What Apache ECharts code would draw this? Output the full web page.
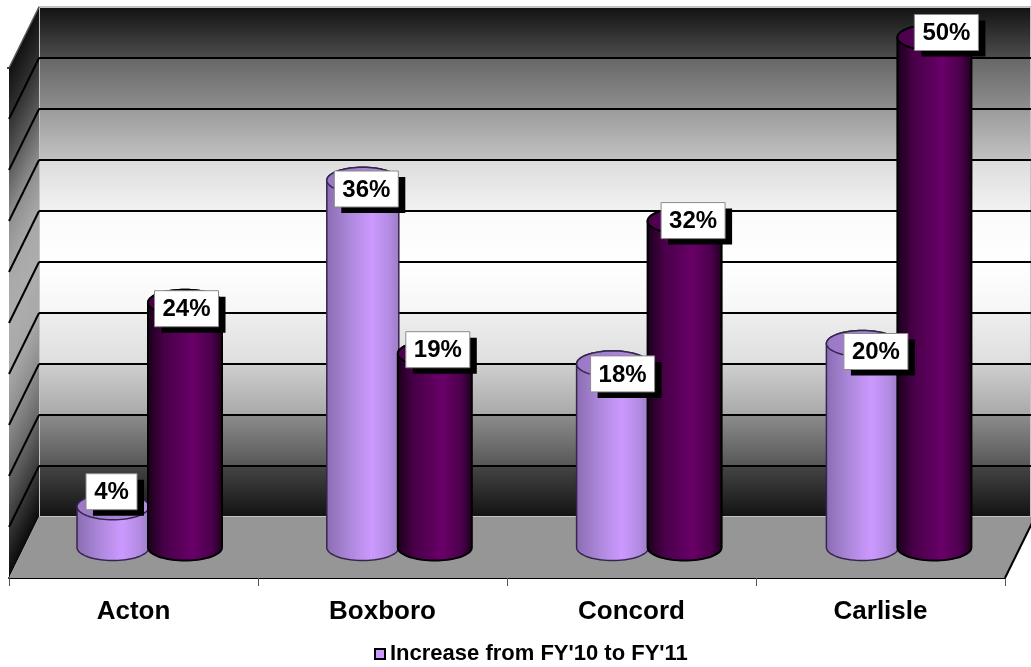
<!DOCTYPE html>
<html>
<head>
<meta charset="utf-8">
<style>html,body{margin:0;padding:0;background:#fff}#chart{width:1031px;height:667px}</style>
<script src="https://cdn.jsdelivr.net/npm/echarts@6/dist/echarts.min.js"></script>
</head>
<body>
<div id="chart"></div>
<script>
// Town budget increases, drawn as cylinders standing on a box-shaped floor.
const towns = ['Acton', 'Boxboro', 'Concord', 'Carlisle'];
const increaseFY11 = [4, 36, 18, 20];
const increasePrior = [24, 19, 32, 50];
const legendName = "Increase from FY'10 to FY'11";
const priorName = 'Prior increase';

// Hand-placed nudges of each value tag from the top of its cylinder, in px.
const tagNudgeFY11 = [[-1.5, -15], [3.5, 8.7], [10, 10], [13.5, 8]];
const tagNudgePrior = [[1.5, 6], [3, -4], [8.5, -0.5], [12, -5]];

const FONT = '"Liberation Sans", Arial, sans-serif';
const DEPTH_X = 30, DEPTH_Y = 61;   // shift from the front plane to the back wall
const RY = 13;                      // vertical radius of the cylinder caps
const BAND_SPREAD = 0.8;            // mid-depth groups sit slightly wider apart than the front ticks

const stops = (list) => list.map(([offset, color]) => ({ offset, color }));

const wallStops = stops([
  [0, '#111111'], [0.1, '#4c4c4c'], [0.1, '#666666'], [0.2, '#8e8e8e'],
  [0.2, '#9a9a9a'], [0.3, '#c2c2c2'], [0.3, '#dcdcdc'], [0.4, '#f2f2f2'],
  [0.4, '#fafafa'], [0.5, '#ffffff'], [0.6, '#f6f6f6'], [0.6, '#eeeeee'],
  [0.7, '#dedede'], [0.7, '#cfcfcf'], [0.8, '#a8a8a8'], [0.8, '#8c8c8c'],
  [0.9, '#565656'], [0.9, '#444444'], [1, '#111111']
]);
const sideStops = stops([
  [0, '#111111'], [0.1, '#303030'], [0.2, '#5c5c5c'], [0.3, '#8f8f8f'],
  [0.4, '#a8a8a8'], [0.5, '#adadad'], [0.6, '#a8a8a8'], [0.7, '#8c8c8c'],
  [0.8, '#666666'], [0.9, '#383838'], [1, '#0a0a0a']
]);

const lightLook = {
  body: stops([[0, '#8a6cb0'], [0.3, '#aa86d8'], [0.62, '#cc99ff'], [0.85, '#b48ce4'], [1, '#9c7cc4']]),
  cap: stops([[0, '#9a78c4'], [1, '#b48ce6']]),
  stroke: '#33264a', lineWidth: 1.5, rx: 36, shift: -35.5
};
const darkLook = {
  body: stops([[0, '#180018'], [0.22, '#470047'], [0.6, '#690069'], [0.85, '#4c004c'], [1, '#1c001c']]),
  cap: stops([[0, '#4c004c'], [1, '#680068']]),
  stroke: '#000000', lineWidth: 2, rx: 37, shift: 36.5
};

const hGrad = (colorStops) => ({ type: 'linear', x: 0, y: 0, x2: 1, y2: 0, colorStops });

// Outline of a full ellipse, as polygon points.
function ellipsePoints(cx, cy, rx) {
  const pts = [];
  for (let i = 0; i < 72; i++) {
    const a = (i / 72) * Math.PI * 2;
    pts.push([cx + rx * Math.cos(a), cy + RY * Math.sin(a)]);
  }
  return pts;
}

// Side surface: down the left edge, round the lower half, up the right edge.
function bodyPoints(cx, topY, baseY, rx) {
  const pts = [[cx - rx, topY]];
  for (let i = 0; i <= 36; i++) {
    const a = Math.PI - (i / 36) * Math.PI;
    pts.push([cx + rx * Math.cos(a), baseY + RY * Math.sin(a)]);
  }
  pts.push([cx + rx, topY]);
  for (let i = 0; i <= 36; i++) {
    const a = (i / 36) * Math.PI;
    pts.push([cx + rx * Math.cos(a), topY - RY * Math.sin(a)]);
  }
  return pts;
}

function tagChildren(cx, cy, value) {
  const text = value + '%';
  const w = text.length > 2 ? 64 : 51;
  const h = 36;
  const x = cx - w / 2, y = cy - h / 2;
  return [
    { type: 'rect', z2: 20, shape: { x: x + 7, y: y + 6, width: w, height: h }, style: { fill: '#000' } },
    { type: 'rect', z2: 21, shape: { x, y, width: w, height: h }, style: { fill: '#fff', stroke: '#8a8a8a', lineWidth: 1 } },
    { type: 'text', z2: 22, style: { x: cx, y: cy + 1, text, fill: '#000', font: 'bold 24px ' + FONT, align: 'center', verticalAlign: 'middle' } }
  ];
}

function cylinderRenderer(look, nudges, order) {
  return function (params, api) {
    const cat = api.value(0), value = api.value(1);
    const base = api.coord([cat, 0]);
    const top = api.coord([cat, value]);
    const cx = base[0] + DEPTH_X / 2 + look.shift + cat * BAND_SPREAD;
    const baseY = base[1] - DEPTH_Y / 2;
    const topY = top[1] - DEPTH_Y / 2;
    const nudge = nudges[params.dataIndex];
    return {
      type: 'group',
      children: [
        { type: 'polygon', z2: order, shape: { points: bodyPoints(cx, topY, baseY, look.rx) },
          style: { fill: hGrad(look.body), stroke: look.stroke, lineWidth: look.lineWidth } },
        { type: 'polygon', z2: order + 1, shape: { points: ellipsePoints(cx, topY, look.rx) },
          style: { fill: hGrad(look.cap), stroke: look.stroke, lineWidth: look.lineWidth } }
      ].concat(tagChildren(cx + nudge[0], topY + nudge[1], value))
    };
  };
}

// Floor, left wall and the wall's slanted grid lines, built from the axis frame.
function renderBox(params, api) {
  const sys = params.coordSys;
  const left = sys.x, right = sys.x + sys.width;
  const bottom = sys.y + sys.height;
  const children = [];
  const slant = DEPTH_Y / DEPTH_X;
  const span = sys.height / (1 + slant * slant);
  children.push({
    type: 'polygon',
    shape: { points: [[left, bottom], [left + DEPTH_X, bottom - DEPTH_Y], [left + DEPTH_X, sys.y - DEPTH_Y], [left, sys.y]] },
    style: {
      fill: { type: 'linear', global: true, x: left, y: sys.y, x2: left + span * slant, y2: sys.y + span, colorStops: sideStops }
    }
  });
  children.push({
    type: 'polygon',
    shape: { points: [[left, bottom], [right, bottom], [right + DEPTH_X, bottom - DEPTH_Y], [left + DEPTH_X, bottom - DEPTH_Y]] },
    style: { fill: '#969696' }
  });
  for (let v = 5; v <= 45; v += 5) {
    const y = api.coord([0, v])[1];
    children.push({
      type: 'line',
      shape: { x1: left, y1: y, x2: left + DEPTH_X, y2: y - DEPTH_Y },
      style: { stroke: '#000', lineWidth: 2 }
    });
  }
  children.push({ type: 'line', shape: { x1: left, y1: sys.y, x2: left + DEPTH_X, y2: sys.y - DEPTH_Y }, style: { stroke: '#555', lineWidth: 1.5 } });
  children.push({ type: 'line', shape: { x1: left - 2, y1: sys.y, x2: left, y2: sys.y }, style: { stroke: '#000', lineWidth: 1.5 } });
  children.push({ type: 'line', shape: { x1: right, y1: bottom, x2: right + DEPTH_X, y2: bottom - DEPTH_Y }, style: { stroke: '#000', lineWidth: 2 } });
  return { type: 'group', children };
}

const option = {
  animation: false,
  backgroundColor: '#ffffff',
  grid: [
    { left: 9, top: 68, width: 996, height: 510, show: false },
    {
      left: 39, top: 7, width: 996, height: 510, show: true, z: 0,
      backgroundColor: { type: 'linear', x: 0, y: 0, x2: 0, y2: 1, colorStops: wallStops },
      borderColor: '#c4c4c4', borderWidth: 2
    }
  ],
  xAxis: [
    {
      type: 'category', gridIndex: 0, data: towns,
      axisLine: { lineStyle: { color: '#000', width: 2 } },
      axisTick: { show: true, length: 8, lineStyle: { color: '#555', width: 1 } },
      axisLabel: { color: '#000', fontFamily: FONT, fontWeight: 'bold', fontSize: 26, margin: 21 }
    },
    { type: 'category', gridIndex: 1, data: towns, show: false }
  ],
  yAxis: [
    {
      type: 'value', gridIndex: 0, min: 0, max: 50, interval: 5,
      axisLabel: { show: false }, axisTick: { show: false }, splitLine: { show: false },
      axisLine: { show: true, lineStyle: { color: '#444', width: 1 } }
    },
    {
      type: 'value', gridIndex: 1, min: 0, max: 50, interval: 5,
      axisLabel: { show: false }, axisTick: { show: false }, axisLine: { show: false },
      splitLine: { show: true, showMinLine: false, showMaxLine: false, lineStyle: { color: '#000', width: 2 } }
    }
  ],
  legend: {
    data: [{ name: legendName, icon: 'rect', itemStyle: { color: '#cc99ff', borderColor: '#000', borderWidth: 2 } }],
    left: 374, top: 643, padding: 0, itemWidth: 10, itemHeight: 10, itemGap: 0, selectedMode: false,
    textStyle: { color: '#000', fontFamily: FONT, fontWeight: 'bold', fontSize: 22 }
  },
  series: [
    {
      name: 'Box', type: 'custom', xAxisIndex: 0, yAxisIndex: 0, silent: true, z: 1,
      data: [[0, 0]], renderItem: renderBox
    },
    {
      name: legendName, type: 'custom', xAxisIndex: 0, yAxisIndex: 0, silent: true, z: 3,
      itemStyle: { color: '#cc99ff' },
      data: increaseFY11.map((v, i) => [i, v]),
      renderItem: cylinderRenderer(lightLook, tagNudgeFY11, 1)
    },
    {
      name: priorName, type: 'custom', xAxisIndex: 0, yAxisIndex: 0, silent: true, z: 3,
      itemStyle: { color: '#660066' },
      data: increasePrior.map((v, i) => [i, v]),
      renderItem: cylinderRenderer(darkLook, tagNudgePrior, 5)
    }
  ]
};

echarts.init(document.getElementById('chart'), null, { renderer: 'canvas' }).setOption(option);
</script>
</body>
</html>
